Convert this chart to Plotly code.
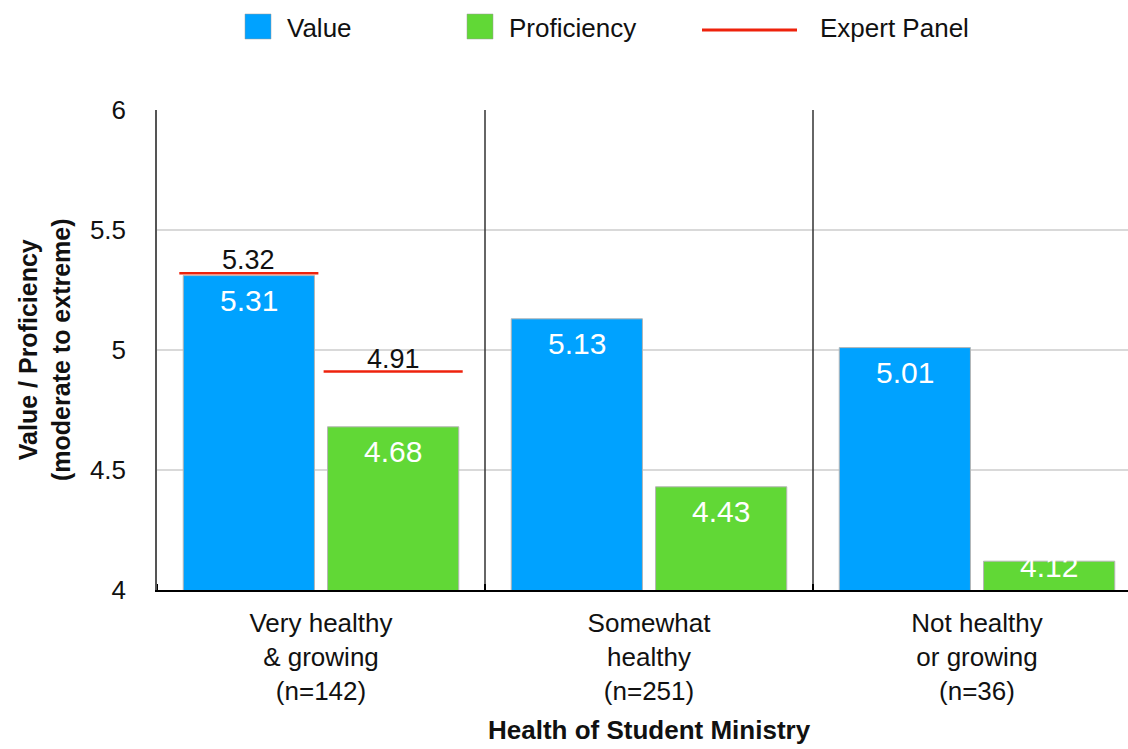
import plotly.graph_objects as go

# Survey results by health of the student ministry
categories = [
    "Very healthy<br>& growing<br>(n=142)",
    "Somewhat<br>healthy<br>(n=251)",
    "Not healthy<br>or growing<br>(n=36)",
]
value_scores = [5.31, 5.13, 5.01]
proficiency_scores = [4.68, 4.43, 4.12]
# Expert panel benchmarks (only shown for the first group)
expert_value = [5.32, None, None]
expert_proficiency = [4.91, None, None]
y_ticks = [4, 4.5, 5, 5.5, 6]

BLUE = "#00A2FF"
GREEN = "#61D836"
RED = "#EE220C"
FONT = "Liberation Sans, Arial, Helvetica, sans-serif"

W, H = 1128, 749
L, T, B = 157, 110, 159          # plot area margins in px
PLOT_W = W - L
PLOT_H = H - T - B

BAR_W = 0.4
OFF_V, OFF_P = -0.42, 0.02        # bar offsets from category centre
Y0, Y1 = 4, 6
PX_PER_Y = PLOT_H / (Y1 - Y0)
X_RANGE = [-0.5, -0.5 + PLOT_W / 328.0]


def px_to_paper(px, py):
    return (px - L) / PLOT_W, (H - B - py) / PLOT_H


xpos = list(range(len(categories)))

fig = go.Figure()
fig.add_trace(go.Bar(
    x=xpos, y=value_scores, width=BAR_W, offset=OFF_V, name="Value",
    marker=dict(color=BLUE, line=dict(color="#b5b5b5", width=1)),
    showlegend=False, hoverinfo="y",
))
fig.add_trace(go.Bar(
    x=xpos, y=proficiency_scores, width=BAR_W, offset=OFF_P, name="Proficiency",
    marker=dict(color=GREEN, line=dict(color="#b5b5b5", width=1)),
    showlegend=False, hoverinfo="y",
))

shapes = []
annotations = []

# Category separators and boundary tick marks
for i in range(len(categories)):
    xb = i - 0.5
    if i > 0:
        shapes.append(dict(type="line", xref="x", yref="y", x0=xb, x1=xb, y0=Y0, y1=Y1,
                           line=dict(color="#333333", width=1.5), layer="above"))
    shapes.append(dict(type="line", xref="x", yref="y", x0=xb, x1=xb,
                       y0=Y0 - 6 / PX_PER_Y, y1=Y0 + 6 / PX_PER_Y,
                       line=dict(color="#000000", width=2), layer="above"))

# Value labels inside the bars
label_drop = 25 / PX_PER_Y
min_label_y = Y0 + 0.10
for i, (v, p) in enumerate(zip(value_scores, proficiency_scores)):
    for val, off in ((v, OFF_V), (p, OFF_P)):
        annotations.append(dict(
            x=i + off + BAR_W / 2, y=max(val - label_drop, min_label_y),
            xref="x", yref="y", text=f"{val:.2f}", showarrow=False,
            font=dict(family=FONT, size=30, color="white"),
            xanchor="center", yanchor="middle",
        ))

# Expert panel benchmark lines with their labels
ext = 0.012
for i, (ev, ep) in enumerate(zip(expert_value, expert_proficiency)):
    for val, off in ((ev, OFF_V), (ep, OFF_P)):
        if val is None:
            continue
        shapes.append(dict(type="line", xref="x", yref="y",
                           x0=i + off - ext, x1=i + off + BAR_W + ext, y0=val, y1=val,
                           line=dict(color=RED, width=2.5), layer="above"))
        annotations.append(dict(
            x=i + off + BAR_W / 2, y=val, xref="x", yref="y",
            text=f"{val:.2f}", showarrow=False,
            font=dict(family=FONT, size=27, color="#111111"),
            xanchor="center", yanchor="bottom", yshift=-4,
        ))

# Legend drawn across the top
def legend_box(x0, color):
    a0, b0 = px_to_paper(x0, 14)
    a1, b1 = px_to_paper(x0 + 26, 39)
    shapes.append(dict(type="rect", xref="paper", yref="paper", x0=a0, x1=a1, y0=b1, y1=b0,
                       fillcolor=color, line=dict(color="#9a9a9a", width=0.5)))


def legend_text(x0, text):
    a, b = px_to_paper(x0, 28)
    annotations.append(dict(x=a, y=b, xref="paper", yref="paper", text=text,
                            showarrow=False, xanchor="left", yanchor="middle",
                            font=dict(family=FONT, size=26, color="#111111")))


legend_box(245, BLUE)
legend_text(285, "Value")
legend_box(467, GREEN)
legend_text(507, "Proficiency")
la, lb = px_to_paper(702, 30)
lc, _ = px_to_paper(797, 30)
shapes.append(dict(type="line", xref="paper", yref="paper", x0=la, x1=lc, y0=lb, y1=lb,
                   line=dict(color=RED, width=3)))
legend_text(818, "Expert Panel")

# Axis titles
ax, ay = px_to_paper(649, 730)
annotations.append(dict(x=ax, y=ay, xref="paper", yref="paper",
                        text="<b>Health of Student Ministry</b>", showarrow=False,
                        xanchor="center", yanchor="middle",
                        font=dict(family=FONT, size=26, color="#111111")))
tx, ty = px_to_paper(44, 350)
annotations.append(dict(x=tx, y=ty, xref="paper", yref="paper",
                        text="<b>Value / Proficiency<br>(moderate to extreme)</b>",
                        showarrow=False, textangle=-90, xanchor="center", yanchor="middle",
                        font=dict(family=FONT, size=25, color="#111111")))

fig.update_layout(
    width=W, height=H,
    margin=dict(l=L, r=0, t=T, b=B, pad=0),
    paper_bgcolor="white", plot_bgcolor="white",
    barmode="overlay",
    showlegend=False,
    shapes=shapes, annotations=annotations,
    font=dict(family=FONT, size=26, color="#111111"),
)
fig.update_xaxes(
    range=X_RANGE, tickvals=xpos, ticktext=categories, ticks="",
    showgrid=False, zeroline=False,
    showline=True, linecolor="#000000", linewidth=2,
    tickfont=dict(family=FONT, size=26, color="#111111"),
    ticklabelstandoff=9, fixedrange=True,
)
fig.update_yaxes(
    range=[Y0, Y1], tickvals=y_ticks, ticktext=[f"{t:g}" for t in y_ticks], ticks="",
    showgrid=True, gridcolor="#d9d9d9", gridwidth=1.5, zeroline=False,
    showline=True, linecolor="#555555", linewidth=1.5,
    tickfont=dict(family=FONT, size=26, color="#111111"),
    ticklabelstandoff=24, fixedrange=True,
)

fig.write_html("out.html")
